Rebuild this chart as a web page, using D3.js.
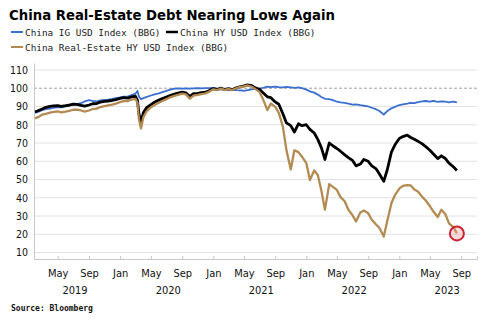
<!DOCTYPE html>
<html>
<head>
<meta charset="utf-8">
<script src="https://cdn.jsdelivr.net/npm/d3@7"></script>
<style>
  body { margin: 0; background: #fff; }
  svg { display: block; }
  .tick text { font-family: 'DejaVu Sans Condensed', 'DejaVu Sans', sans-serif; }
</style>
</head>
<body>
<div class="chart"></div>
<script>
const dates = [
  '2019-02-01','2019-02-15','2019-03-01','2019-03-15','2019-04-01','2019-04-15','2019-05-01','2019-05-15',
  '2019-06-01','2019-06-15','2019-07-01','2019-07-15','2019-08-01','2019-08-15','2019-09-01','2019-09-15',
  '2019-10-01','2019-10-15','2019-11-01','2019-11-15','2019-12-01','2019-12-15','2020-01-01','2020-01-15',
  '2020-02-01','2020-02-15','2020-03-01','2020-03-09','2020-03-15','2020-03-23','2020-04-01','2020-04-15',
  '2020-05-01','2020-05-15','2020-06-01','2020-06-15','2020-07-01','2020-07-15','2020-08-01','2020-08-15',
  '2020-09-01','2020-09-15','2020-10-01','2020-10-15','2020-11-01','2020-11-15','2020-12-01','2020-12-15',
  '2021-01-01','2021-01-15','2021-02-01','2021-02-15','2021-03-01','2021-03-15','2021-04-01','2021-04-15',
  '2021-05-01','2021-05-15','2021-06-01','2021-06-15','2021-07-01','2021-07-15','2021-08-01','2021-08-15',
  '2021-09-01','2021-09-15','2021-10-01','2021-10-15','2021-11-01','2021-11-15','2021-12-01','2021-12-15',
  '2022-01-01','2022-01-15','2022-02-01','2022-02-15','2022-03-01','2022-03-15','2022-04-01','2022-04-15',
  '2022-05-01','2022-05-15','2022-06-01','2022-06-15','2022-07-01','2022-07-15','2022-08-01','2022-08-15',
  '2022-09-01','2022-09-15','2022-10-01','2022-10-15','2022-11-01','2022-11-15','2022-12-01','2022-12-15',
  '2023-01-01','2023-01-15','2023-02-01','2023-02-15','2023-03-01','2023-03-15','2023-04-01','2023-04-15',
  '2023-05-01','2023-05-15','2023-06-01','2023-06-15','2023-07-01','2023-07-15','2023-08-01','2023-08-15'
];

const igValues = [
  86.5,87.2,88.0,88.5,88.8,89.3,89.6,89.5, 90.0,90.5,91.0,91.3,91.8,92.8,93.5,93.0,
  92.8,93.3,93.6,93.8,94.2,94.6,95.0,95.4, 95.5,96.2,97.0,98.5,95.5,94.0,94.6,95.3,
  96.0,96.6,97.2,97.8,98.5,99.2,99.8,99.9, 99.8,99.9,99.8,99.9,100.0,99.9,100.1,100.0,
  100.2,99.6,99.2,99.5,99.0,99.3,99.0,98.8, 98.6,98.9,99.3,99.6,99.8,100.2,100.8,100.6,
  100.9,100.6,100.4,100.7,100.5,100.2,100.4,100.0, 99.2,98.3,97.6,96.5,95.2,94.2,94.0,93.5,
  92.6,92.3,92.0,91.6,91.0,91.2,90.7,90.4, 90.0,89.3,88.5,87.5,85.6,87.5,89.0,89.8,
  90.8,91.2,91.6,92.0,91.8,92.4,92.8,93.0, 92.6,93.0,92.5,92.8,92.6,92.3,92.6,92.3
];

const hyValues = [
  87.0,87.8,88.6,89.5,90.0,90.3,90.5,90.0, 90.4,90.8,91.3,91.2,90.6,90.2,90.8,91.5,
  91.6,92.4,92.8,93.0,93.3,93.8,94.4,94.8, 94.6,95.3,95.6,93.5,86.0,81.0,86.5,89.5,
  91.0,92.3,93.5,94.3,95.2,96.0,96.8,97.3, 97.8,97.5,95.5,97.0,97.2,97.6,97.8,98.6,
  99.8,99.4,100.0,99.3,99.8,99.2,100.2,100.8, 101.3,101.8,101.4,100.2,99.4,97.5,95.3,94.8,
  92.5,91.2,86.0,81.0,79.5,76.0,80.5,79.5, 80.0,77.5,75.5,72.0,67.5,61.0,70.0,68.5,
  67.0,65.5,63.5,62.0,60.5,57.5,58.5,61.0, 60.0,57.5,56.0,53.0,49.0,55.5,65.0,69.0,
  72.5,73.5,74.3,73.0,72.0,71.0,69.5,68.0, 66.0,64.0,61.5,63.0,61.5,59.0,57.0,55.0
];

const reValues = [
  83.5,84.3,85.5,86.0,86.6,87.0,87.3,86.8, 87.2,87.6,88.2,88.3,87.8,87.2,87.8,88.6,
  88.8,89.7,90.2,90.6,91.0,91.6,92.4,92.9, 93.0,93.8,94.2,92.0,83.0,78.0,84.0,87.5,
  89.5,90.8,92.0,93.0,94.0,95.0,95.8,96.4, 97.0,96.6,94.3,96.0,96.4,96.8,97.2,98.0,
  99.4,99.0,99.8,99.0,99.6,99.0,100.0,100.6, 101.0,101.5,100.8,99.5,98.0,94.0,88.0,91.6,
  89.8,86.5,79.0,66.0,55.5,66.0,65.0,62.5, 59.0,49.7,55.0,52.5,44.0,33.5,47.5,46.0,
  44.3,40.5,38.0,33.5,30.5,27.0,32.0,33.0, 31.5,28.0,25.5,23.5,18.8,27.5,37.0,41.5,
  45.0,46.5,47.0,46.8,44.5,43.5,40.5,38.5, 35.5,32.5,29.5,33.5,31.0,26.0,24.0,20.5
];

const seriesNames = ['China IG USD Index (BBG)', 'China HY USD Index (BBG)', 'China Real-Estate HY USD Index (BBG)'];
const seriesColors = ['#3b6fcf', '#000000', '#b38b52'];
const yTicks = [10, 20, 30, 40, 50, 60, 70, 80, 90, 100, 110];
const monthTicks = ['2019-05-01','2019-09-01','2020-01-01','2020-05-01','2020-09-01','2021-01-01','2021-05-01',
  '2021-09-01','2022-01-01','2022-05-01','2022-09-01','2023-01-01','2023-05-01','2023-09-01'];
const yearLabels = ['2019', '2020', '2021', '2022', '2023'];

const width = 485, height = 323;
const margin = {top: 63, right: 8, bottom: 64, left: 34};

const parse = d3.timeParse('%Y-%m-%d');
const seriesValues = [igValues, hyValues, reValues];
const series = seriesValues.map((vals, i) => ({
  name: seriesNames[i],
  color: seriesColors[i],
  points: dates.map((d, j) => ({date: parse(d), value: vals[j]}))
}));

const x = d3.scaleTime()
  .domain([new Date(2019, 0, 28), new Date(2023, 10, 2)])
  .range([margin.left, width - margin.right]);

const y = d3.scaleLinear()
  .domain([6.5, 113.8])
  .range([height - margin.bottom, margin.top]);

const svg = d3.select('.chart').append('svg')
  .attr('width', width)
  .attr('height', height);

// fits a text element into a given width if the font runs wide
const fitText = (sel, maxW) => {
  const w = sel.node().getComputedTextLength();
  if (w > maxW) sel.attr('textLength', maxW).attr('lengthAdjust', 'spacingAndGlyphs');
};

// title
svg.append('text')
  .attr('x', 9).attr('y', 19.5)
  .style('font-family', "'DejaVu Sans', sans-serif")
  .style('font-weight', 'bold')
  .style('font-size', '14px')
  .text('China Real-Estate Debt Nearing Lows Again')
  .call(fitText, 326);

// legend
const legendPos = [[11, 32], [166, 32], [11, 47]];
const legend = svg.append('g').attr('class', 'legend');
series.forEach((s, i) => {
  const [lx, ly] = legendPos[i];
  legend.append('line')
    .attr('x1', lx).attr('x2', lx + 12)
    .attr('y1', ly).attr('y2', ly)
    .attr('stroke', s.color)
    .attr('stroke-width', i === 1 ? 2.5 : 2);
  legend.append('text')
    .attr('x', lx + 14).attr('y', ly + 3.5)
    .style('font-family', "'DejaVu Sans Mono', monospace")
    .style('font-size', '9.4px')
    .attr('fill', '#222')
    .text(s.name);
});

// grid
const grid = svg.append('g').attr('class', 'grid');
grid.selectAll('line')
  .data(yTicks)
  .join('line')
  .attr('x1', margin.left).attr('x2', width - margin.right)
  .attr('y1', d => y(d)).attr('y2', d => y(d))
  .attr('stroke', d => d === 100 ? '#a0a0a0' : '#e2e2e2')
  .attr('stroke-width', 1)
  .attr('stroke-dasharray', d => d === 100 ? '3,2' : null);

// y axis
const yAxis = svg.append('g')
  .attr('transform', `translate(${margin.left},0)`)
  .call(d3.axisLeft(y).tickValues(yTicks).tickSize(0).tickPadding(6));
yAxis.select('.domain').attr('stroke', '#c8c8c8');
yAxis.selectAll('.tick text').style('font-size', '10.5px').attr('fill', '#111');

// x axis
const xAxis = svg.append('g')
  .attr('transform', `translate(0,${height - margin.bottom})`)
  .call(d3.axisBottom(x)
    .tickValues(monthTicks.map(parse))
    .tickFormat(d3.timeFormat('%b'))
    .tickSize(-3)
    .tickPadding(10));
xAxis.select('.domain').attr('stroke', '#c8c8c8');
xAxis.selectAll('.tick line').attr('stroke', '#c8c8c8');
xAxis.selectAll('.tick text').style('font-size', '11px').attr('fill', '#111');

xAxis.selectAll('.year')
  .data(yearLabels)
  .join('text')
  .attr('class', 'year')
  .attr('x', d => x(parse(d + '-07-08')))
  .attr('y', 34.5)
  .attr('text-anchor', 'middle')
  .style('font-family', "'DejaVu Sans Condensed', 'DejaVu Sans', sans-serif")
  .style('font-size', '11px')
  .attr('fill', '#111')
  .text(d => d);

// lines
const line = d3.line()
  .x(d => x(d.date))
  .y(d => y(d.value));

const widths = [1.8, 2.8, 2.3];
svg.append('g').attr('class', 'lines')
  .selectAll('path')
  .data(series)
  .join('path')
  .attr('fill', 'none')
  .attr('stroke', d => d.color)
  .attr('stroke-width', (d, i) => widths[i])
  .attr('stroke-linejoin', 'round')
  .attr('d', d => line(d.points));

// red marker at the latest real-estate print
const last = series[2].points[series[2].points.length - 1];
svg.append('circle')
  .attr('cx', x(last.date))
  .attr('cy', y(last.value))
  .attr('r', 7)
  .attr('fill', 'rgba(240,150,150,0.35)')
  .attr('stroke', '#cc2233')
  .attr('stroke-width', 2);

// source
svg.append('text')
  .attr('x', 11).attr('y', 311)
  .style('font-family', "'DejaVu Sans Mono', monospace")
  .style('font-weight', 'bold')
  .style('font-size', '8px')
  .attr('fill', '#111')
  .text('Source: Bloomberg');
</script>
</body>
</html>
